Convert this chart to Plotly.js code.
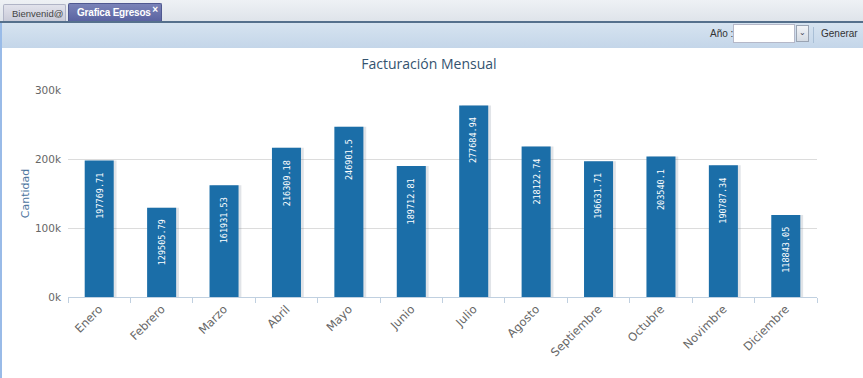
<!DOCTYPE html>
<html>
<head>
<meta charset="utf-8">
<script src="https://cdn.plot.ly/plotly-3.0.1.min.js"></script>
<style>
  html, body { margin:0; padding:0; width:863px; height:378px; overflow:hidden; background:#fff; font-family:"Liberation Sans", Arial, sans-serif; }
  #strip { position:absolute; left:0; top:0; width:863px; height:21px; background:linear-gradient(#eef1f5,#dfe4ea); }
  .tab { position:absolute; top:4px; height:17px; font-size:9.5px; line-height:17px; box-sizing:border-box; border-radius:2px 2px 0 0; white-space:nowrap; overflow:hidden; }
  #tab1 { left:3px; width:63px; background:linear-gradient(#e2e3ec,#c9cbd8); border:1px solid #b0b4c6; border-bottom:none; color:#444; padding-left:8px; }
  #tab2 { left:68px; width:94px; top:3px; height:18px; background:linear-gradient(#7a83b8,#5a63a1); border:1px solid #4f5890; border-bottom:none; color:#fff; font-weight:bold; padding-left:8px; line-height:18px; font-size:10px; letter-spacing:-0.2px; }
  #tab2 span { position:absolute; right:3px; top:-3px; font-size:10px; font-weight:bold; }
  #line { position:absolute; left:0; top:21px; width:863px; height:2px; background:#55708c; }
  #toolbar { position:absolute; left:0; top:23px; width:863px; height:25px; background:linear-gradient(#d6e3f0,#c4d6e9); border-left:2px solid #99bbe8; box-sizing:border-box; }
  #lblano { position:absolute; left:710px; top:28px; font-size:10px; color:#333; }
  #input { position:absolute; left:733px; top:24px; width:62px; height:19px; background:#fff; border:1px solid #b5b8c8; box-sizing:border-box; }
  #trig { position:absolute; left:796px; top:25px; width:13px; height:17px; background:linear-gradient(#f2f4f7,#d5dbe3); border:1px solid #9aa4b3; box-sizing:border-box; font-size:8px; text-align:center; line-height:13px; color:#445; }
  #sep { position:absolute; left:813px; top:27px; width:1px; height:16px; background:#a9bfd6; }
  #gen { position:absolute; left:821px; top:28px; font-size:10px; color:#333; }
  #lborder { position:absolute; left:0; top:48px; width:2px; height:330px; background:#99bbe8; }
  #chart { position:absolute; left:0; top:48px; width:863px; height:330px; }
</style>
</head>
<body>
<div id="strip"></div>
<div class="tab" id="tab1">Bienvenid@</div>
<div class="tab" id="tab2">Grafica Egresos<span>×</span></div>
<div id="line"></div>
<div id="toolbar"></div>
<div id="lblano">Año :</div>
<div id="input"></div>
<div id="trig">&#8964;</div>
<div id="sep"></div>
<div id="gen">Generar</div>
<div id="chart"></div>
<div id="lborder"></div>
<script>
const months = ["Enero","Febrero","Marzo","Abril","Mayo","Junio","Julio","Agosto","Septiembre","Octubre","Novimbre","Diciembre"];
const amounts = [197769.71,129505.79,161931.53,216309.18,246901.5,189712.81,277684.94,218122.74,196631.71,203540.1,190787.34,118843.05];
const yTickVals = [0,100000,200000,300000];
const yTickText = ["0k","100k","200k","300k"];
const chartTitle = "Facturación Mensual";
const yTitle = "Cantidad";

const barW = 0.465;
const shadow = {
  type:"bar", x:months, y:amounts, width:barW, offset:-barW/2+0.045,
  marker:{color:"rgba(120,130,150,0.22)"}, hoverinfo:"skip", showlegend:false
};
const bars = {
  type:"bar", x:months, y:amounts, width:barW, offset:-barW/2,
  marker:{color:"#1b6ea8"}, showlegend:false
};
const annotations = months.map((m,i)=>({
  x:m, y:amounts[i], xref:"x", yref:"y", text:String(amounts[i]),
  textangle:-90, showarrow:false, yanchor:"top", xanchor:"center", yshift:-10,
  font:{family:"DejaVu Sans Mono, monospace", size:8.5, color:"#ffffff"}
}));

const layout = {
  width:863, height:330,
  margin:{l:68, r:46, t:42, b:81, pad:0},
  paper_bgcolor:"#ffffff", plot_bgcolor:"#ffffff",
  barmode:"overlay",
  title:{text:chartTitle, x:0.497, xanchor:"center", y:1-16/330, yanchor:"middle", yref:"container",
         font:{family:"Open Sans", size:14, color:"#34536f"}},
  xaxis:{type:"category", showgrid:false, zeroline:false, showline:true, linecolor:"#c0d0e0", linewidth:1,
         ticks:"outside", tickson:"boundaries", ticklen:5, tickcolor:"#c0d0e0", tickangle:-45,
         tickfont:{family:"DejaVu Sans", size:11.5, color:"#666666"}, fixedrange:true},
  yaxis:{range:[0,300000], tickvals:yTickVals, ticktext:yTickText, showgrid:true, gridcolor:"#dcdcdc", gridwidth:1,
         zeroline:false, showline:false, ticks:"", ticklabelstandoff:6,
         tickfont:{family:"DejaVu Sans", size:10.5, color:"#666666"},
         title:{text:yTitle, standoff:3, font:{family:"DejaVu Sans", size:11, color:"#4d759e"}}, fixedrange:true},
  annotations:annotations,
  font:{family:"DejaVu Sans"}
};
Plotly.newPlot("chart",[shadow,bars],layout,{displayModeBar:false,staticPlot:true});
</script>
</body>
</html>
